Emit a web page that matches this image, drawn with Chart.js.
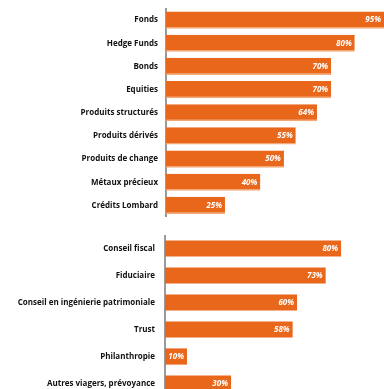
<!DOCTYPE html>
<html>
<head>
<meta charset="utf-8">
<script src="https://cdn.jsdelivr.net/npm/chart.js@4"></script>
<style>
  html, body { margin: 0; padding: 0; background: #fff; overflow: hidden; width: 384px; height: 389px; }
  canvas { position: absolute; left: 0; }
  #chart-produits { top: 0; }
  #chart-services { top: 235px; }
</style>
</head>
<body>
<canvas id="chart-produits" width="384" height="217"></canvas>
<canvas id="chart-services" width="384" height="162"></canvas>
<script>
// donnees
const produitsLabels = ['Fonds', 'Hedge Funds', 'Bonds', 'Equities', 'Produits structurés', 'Produits dérivés', 'Produits de change', 'Métaux précieux', 'Crédits Lombard'];
const produitsValues = [95, 80, 70, 70, 64, 55, 50, 40, 25];

const servicesLabels = ['Conseil fiscal', 'Fiduciaire', 'Conseil en ingénierie patrimoniale', 'Trust', 'Philanthropie', 'Autres viagers, prévoyance'];
const servicesValues = [80, 73, 60, 58, 10, 30];

const ORANGE = '#e8671b';

// etiquettes de valeur en blanc au bout des barres
const valueLabels = {
    id: 'valueLabels',
    afterDatasetsDraw(chart) {
        const ctx = chart.ctx;
        const area = chart.chartArea;
        const meta = chart.getDatasetMeta(0);
        const vals = chart.data.datasets[0].data;
        ctx.save();
        ctx.font = 'italic bold 8px "Open Sans"';
        ctx.fillStyle = '#fff';
        ctx.textAlign = 'right';
        ctx.textBaseline = 'middle';
        meta.data.forEach((bar, i) => {
            const x = Math.min(bar.x, area.right) - 3;
            ctx.fillText(vals[i] + '%', x, bar.y);
        });
        ctx.restore();
    }
};

function makeChart(id, labels, values, opts) {
    return new Chart(document.getElementById(id), {
        type: 'bar',
        data: {
            labels: labels,
            datasets: [{
                data: values,
                backgroundColor: ORANGE,
                borderColor: opts.edge,
                borderWidth: opts.edge ? { top: 0, right: 0, bottom: 1.5, left: 0 } : 0,
                borderSkipped: 'start',
                barPercentage: opts.bar,
                categoryPercentage: 1
            }]
        },
        options: {
            indexAxis: 'y',
            responsive: false,
            animation: false,
            layout: { padding: { top: opts.padTop || 0, right: 0, bottom: 0, left: 0 } },
            plugins: { legend: { display: false }, tooltip: { enabled: false } },
            scales: {
                x: { display: false, min: 0, max: opts.max },
                y: {
                    afterFit: (s) => {
                        s.width = opts.left;
                        s.paddingTop = 0;
                        s.paddingBottom = 0;
                    },
                    grid: { display: false, drawTicks: false },
                    border: { display: true, color: '#9a9a9a', width: 2 },
                    ticks: {
                        color: '#111',
                        padding: opts.pad,
                        font: { family: 'Open Sans', size: 8, weight: 'bold' }
                    }
                }
            }
        },
        plugins: [valueLabels]
    });
}

makeChart('chart-produits', produitsLabels, produitsValues, { left: 166, max: 92.4, bar: 0.74, pad: 8, padTop: 8.5, edge: '#f3a877' });
makeChart('chart-services', servicesLabels, servicesValues, { left: 165, max: 99.5, bar: 0.6, pad: 10 });
</script>
</body>
</html>
